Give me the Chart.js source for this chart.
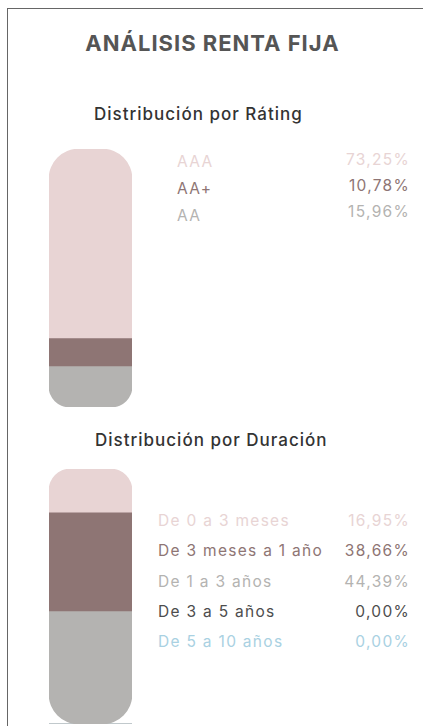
<!DOCTYPE html>
<html><head><meta charset="utf-8">
<script src="https://cdn.jsdelivr.net/npm/chart.js@4/dist/chart.umd.min.js"></script>
<style>
html,body{margin:0;padding:0;background:#fff;width:423px;height:726px;overflow:hidden;font-family:Inter,"Noto Sans",sans-serif;}
#frame{position:absolute;left:7px;top:8px;width:430px;height:730px;border-left:1px solid #666;border-top:1px solid #666;}
.t{position:absolute;white-space:nowrap;}
#title{left:1px;width:423px;text-align:center;top:32px;font-size:22px;line-height:22px;font-weight:700;color:#555;letter-spacing:1px;}
.sub{font-size:17px;line-height:17px;font-weight:500;color:#333;letter-spacing:1px;}
.cv{position:absolute;}
.leg{position:absolute;font-size:15.5px;font-weight:400;letter-spacing:1.3px;}
.leg div{white-space:nowrap;}
</style></head>
<body>
<div id="frame"></div>
<div class="t" id="title">ANÁLISIS RENTA FIJA</div>
<div class="t sub" style="left:94px;top:106px;">Distribución por Ráting</div>
<div class="t sub" style="left:95px;top:432px;">Distribución por Duración</div>
<div class="cv" style="left:49px;top:149px;width:83px;height:258px;"><canvas id="c1"></canvas></div>
<div class="cv" style="left:49px;top:469px;width:83px;height:255px;"><canvas id="c2"></canvas></div>
<div class="leg" id="l1a" style="left:177px;top:149.4px;line-height:26.6px;"></div>
<div class="leg" id="l1b" style="right:13px;top:147.2px;line-height:25.8px;text-align:right;"></div>
<div class="leg" id="l2a" style="left:158px;top:506px;line-height:30.25px;"></div>
<div class="leg" id="l2b" style="right:13px;top:506px;line-height:30.25px;text-align:right;"></div>
<script>
const ratingLabels = ["AAA", "AA+", "AA"];
const ratingValues = [73.25, 10.78, 15.96];
const ratingColors = ["#e8d4d4", "#8e7574", "#b4b3b1"];

const durLabels = ["De 0 a 3 meses", "De 3 meses a 1 año", "De 1 a 3 años", "De 3 a 5 años", "De 5 a 10 años"];
const durValues = [16.95, 38.66, 44.39, 0.00, 0.00];
const durColors = ["#e8d4d4", "#8e7574", "#b4b3b1", "#4d4d4d", "#a9d1e2"];

function fmt(v){ return v.toFixed(2).replace('.', ',') + '%'; }

function buildLegend(idA, idB, labels, values, colors){
  const a = document.getElementById(idA), b = document.getElementById(idB);
  labels.forEach((l, i) => {
    const d = document.createElement('div'); d.textContent = l; d.style.color = colors[i]; a.appendChild(d);
    const e = document.createElement('div'); e.textContent = fmt(values[i]); e.style.color = colors[i]; b.appendChild(e);
  });
}
buildLegend('l1a', 'l1b', ratingLabels, ratingValues, ratingColors);
buildLegend('l2a', 'l2b', durLabels, durValues, durColors);

function makeBar(id, labels, values, colors){
  const R = 30;
  let acc = 0;
  const nz = values.map((v, i) => v > 0 ? i : -1).filter(i => i >= 0);
  const first = nz[0], last = nz[nz.length - 1];
  const datasets = values.map((v, i) => {
    const s = acc; acc += v;
    return {
      label: labels[i],
      data: [[s, acc]],
      backgroundColor: colors[i],
      borderWidth: 0,
      borderSkipped: false,
      borderRadius: {
        topLeft: i === first ? R : 0, topRight: i === first ? R : 0,
        bottomLeft: i === last ? R : 0, bottomRight: i === last ? R : 0
      },
      grouped: false,
      barPercentage: 1, categoryPercentage: 1
    };
  });
  new Chart(document.getElementById(id), {
    type: 'bar',
    data: { labels: [''], datasets },
    options: {
      responsive: true, maintainAspectRatio: false, animation: false,
      layout: { padding: 0 },
      plugins: { legend: { display: false }, tooltip: { enabled: false } },
      scales: {
        x: { display: false },
        y: { display: false, min: 0, max: 100, reverse: true }
      }
    }
  });
}
makeBar('c1', ratingLabels, ratingValues, ratingColors);
makeBar('c2', durLabels, durValues, durColors);
</script>
</body></html>
